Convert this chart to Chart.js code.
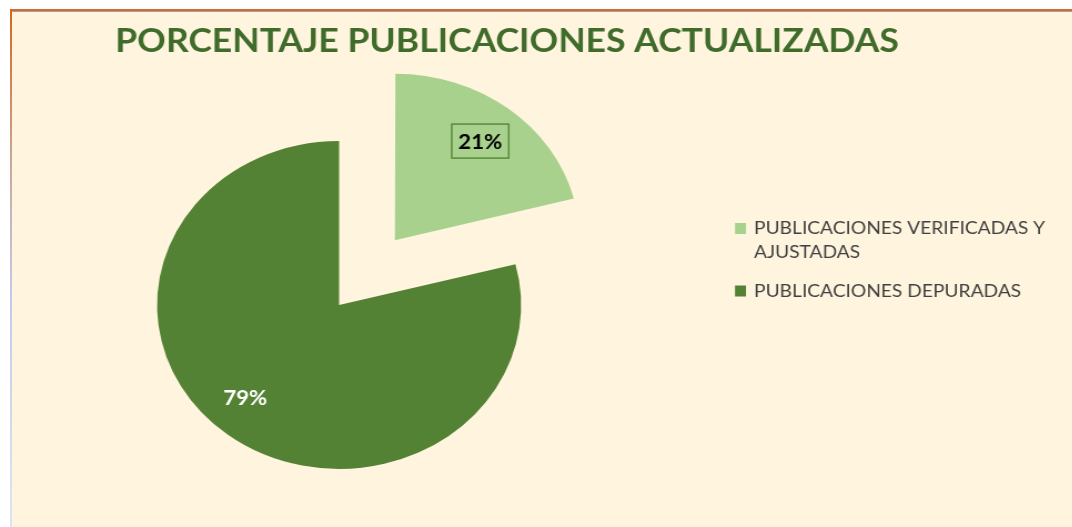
<!DOCTYPE html>
<html>
<head>
<meta charset="utf-8">
<script src="https://cdn.jsdelivr.net/npm/chart.js@4/dist/chart.umd.min.js"></script>
<style>
  html, body { margin: 0; padding: 0; background: #ffffff; overflow: hidden; }
  #frame { position: absolute; left: 10px; top: 9px; width: 1062px; height: 518px; background: #fff5de; }
  #topline { position: absolute; left: 10px; top: 9px; width: 1062px; height: 2px; background: #d8692a; }
  #topline2 { position: absolute; left: 12px; top: 11px; width: 1060px; height: 1px; background: #9aa0b8; }
  #leftline { position: absolute; left: 10px; top: 9px; width: 2px; height: 518px;
              background: linear-gradient(#d8661f, #c9a89a 30%, #c3c9ea 55%, #dfe4f2 100%); }
  #wrap { position: absolute; left: 0; top: 0; width: 966px; height: 527px;
          transform: scaleX(1.11); transform-origin: 0 0; }
</style>
</head>
<body>
<div id="frame"></div>
<div id="wrap"><canvas id="pie" width="966" height="527"></canvas></div>
<div id="topline"></div>
<div id="topline2"></div>
<div id="leftline"></div>
<script>
// data
var categories = ['PUBLICACIONES VERIFICADAS Y AJUSTADAS', 'PUBLICACIONES DEPURADAS'];
var values = [21, 79];
var labels = ['21%', '79%'];
var legendLines = [['PUBLICACIONES VERIFICADAS Y', 'AJUSTADAS'], ['PUBLICACIONES DEPURADAS']];
var colors = ['#a9d18e', '#548235'];
var chartTitle = 'PORCENTAJE PUBLICACIONES ACTUALIZADAS';

var K = 1.11; // horizontal stretch of the original picture

// title, legend and percent labels
var extras = {
    id: 'extras',
    afterDraw: function(chart) {
        var ctx = chart.ctx;
        ctx.save();

        //title
        ctx.fillStyle = '#3f6b2b';
        ctx.font = 'bold 32px Lato';
        ctx.textAlign = 'center';
        ctx.textBaseline = 'alphabetic';
        ctx.fillText(chartTitle, 507 / K, 52);

        //legend
        ctx.font = '17.3px Lato';
        ctx.textAlign = 'left';
        ctx.textBaseline = 'middle';
        var y = 228.5;
        for (var i = 0; i < legendLines.length; i++) {
            ctx.fillStyle = colors[i];
            ctx.fillRect(735 / K, y - 5.5, 11 / K, 11);
            ctx.fillStyle = '#404040';
            for (var j = 0; j < legendLines[i].length; j++) {
                ctx.fillText(legendLines[i][j], 754 / K, y + j * 24);
            }
            y += legendLines[i].length * 24 + 14.5;
        }

        //percent labels
        var meta = chart.getDatasetMeta(0);
        ctx.font = 'bold 20px Lato';
        ctx.textAlign = 'center';
        for (var i = 0; i < meta.data.length; i++) {
            var arc = meta.data[i];
            var mid = (arc.startAngle + arc.endAngle) / 2;
            var off = (arc.options.offset || 0) / 4;
            var r = arc.outerRadius * 0.765;
            var ang = i == 0 ? mid : mid + 0.08;
            var x = arc.x + Math.cos(mid) * off + Math.cos(ang) * r;
            var yy = arc.y + Math.sin(mid) * off + Math.sin(ang) * r;
            if (i == 0) {
                var w = 57 / K, h = 34;
                ctx.fillStyle = colors[0];
                ctx.fillRect(x - w / 2, yy - h / 2, w, h);
                ctx.strokeStyle = '#5a8a3a';
                ctx.lineWidth = 1.5;
                ctx.strokeRect(x - w / 2, yy - h / 2, w, h);
                ctx.fillStyle = '#000000';
            } else {
                ctx.fillStyle = '#ffffff';
            }
            ctx.fillText(labels[i], x, yy + 1);
        }
        ctx.restore();
    }
};

var ctx = document.getElementById('pie').getContext('2d');
var chart = new Chart(ctx, {
    type: 'pie',
    data: {
        labels: categories,
        datasets: [{
            data: values,
            backgroundColor: colors,
            borderWidth: 0,
            offset: [328, 0]
        }]
    },
    options: {
        responsive: false,
        animation: false,
        radius: 164,
        layout: { padding: { left: 0, right: 355, top: 100, bottom: 17 } },
        plugins: {
            legend: { display: false },
            title: { display: false },
            tooltip: { enabled: false }
        }
    },
    plugins: [extras]
});
</script>
</body>
</html>
